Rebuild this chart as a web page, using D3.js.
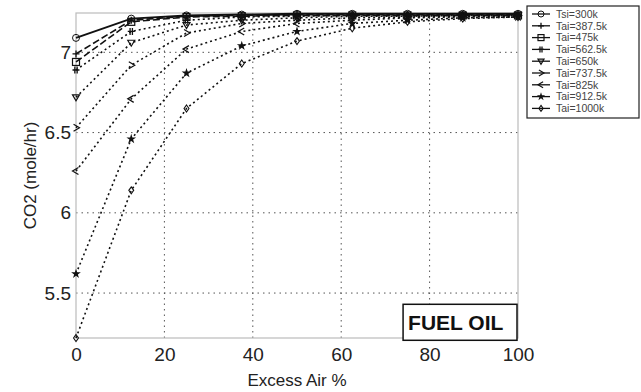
<!DOCTYPE html>
<html>
<head>
<meta charset="utf-8">
<script src="https://cdn.jsdelivr.net/npm/d3@7"></script>
<style>
  html, body { margin: 0; padding: 0; background: #fff; }
  svg { display: block; font-family: "Liberation Sans", Arial, sans-serif; }
</style>
</head>
<body>
<svg id="chart" width="641" height="392"></svg>
<script>
// Excess air (%) sample points
const excessAir = [0, 12.5, 25, 37.5, 50, 62.5, 75, 87.5, 100];

// Inlet air temperature series labels
const seriesLabels = ["Tsi=300k", "Tai=387.5k", "Tai=475k", "Tai=562.5k", "Tai=650k",
                      "Tai=737.5k", "Tai=825k", "Tai=912.5k", "Tai=1000k"];

// CO2 production (mole/hr) for each inlet air temperature
const co2_300   = [7.09, 7.21, 7.23, 7.235, 7.24, 7.24, 7.24, 7.24, 7.24];
const co2_387   = [6.99, 7.20, 7.225, 7.23, 7.235, 7.235, 7.235, 7.235, 7.235];
const co2_475   = [6.94, 7.19, 7.22, 7.225, 7.23, 7.23, 7.23, 7.23, 7.23];
const co2_562   = [6.89, 7.13, 7.20, 7.22, 7.225, 7.23, 7.23, 7.23, 7.23];
const co2_650   = [6.72, 7.06, 7.17, 7.20, 7.215, 7.225, 7.225, 7.23, 7.23];
const co2_737   = [6.53, 6.92, 7.12, 7.18, 7.20, 7.215, 7.22, 7.225, 7.23];
const co2_825   = [6.26, 6.71, 7.02, 7.13, 7.18, 7.20, 7.215, 7.22, 7.225];
const co2_912   = [5.62, 6.46, 6.87, 7.04, 7.13, 7.18, 7.20, 7.215, 7.22];
const co2_1000  = [5.22, 6.14, 6.65, 6.93, 7.07, 7.15, 7.19, 7.21, 7.22];

const seriesValues = [co2_300, co2_387, co2_475, co2_562, co2_650,
                      co2_737, co2_825, co2_912, co2_1000];

const xTicks = [0, 20, 40, 60, 80, 100];
const yTicks = [5.5, 6, 6.5, 7];
const yTickLabels = ["5.5", "6", "6.5", "7"];

const xTitle = "Excess Air %";
const yTitle = "CO2 (mole/hr)";
const boxText = "FUEL OIL";

// Marker and line style per series
const markerKinds = ["circle", "plus", "square", "hash", "tri-down", "tri-right", "tri-left", "star", "diamond"];
const dashKinds = ["none", "7,3", "7,3", "2,3", "2,3", "2,3", "2,3", "2,3", "2,3"];

const svg = d3.select("#chart");
const m = { left: 76, right: 123, top: 13, bottom: 54 };
const W = 641, H = 392;
const x = d3.scaleLinear().domain([0, 100]).range([m.left, W - m.right]);
const y = d3.scaleLinear().domain([5.22, 7.245]).range([H - m.bottom, m.top]);

const g = svg.append("g");

// grid
g.append("g").selectAll("line").data(xTicks.slice(1, -1)).join("line")
  .attr("x1", d => x(d)).attr("x2", d => x(d))
  .attr("y1", y.range()[0]).attr("y2", y.range()[1])
  .attr("stroke", "#555").attr("stroke-width", 1).attr("stroke-dasharray", "1.5,4");
g.append("g").selectAll("line").data(yTicks).join("line")
  .attr("x1", x.range()[0]).attr("x2", x.range()[1])
  .attr("y1", d => y(d)).attr("y2", d => y(d))
  .attr("stroke", "#555").attr("stroke-width", 1).attr("stroke-dasharray", "1.5,4");

// axes frame
g.append("rect")
  .attr("x", x.range()[0]).attr("y", y.range()[1])
  .attr("width", x.range()[1] - x.range()[0]).attr("height", y.range()[0] - y.range()[1])
  .attr("fill", "none").attr("stroke", "#bbb").attr("stroke-width", 1.2);

const xAxis = d3.axisBottom(x).tickValues(xTicks).tickSize(0).tickPadding(10);
const xa = g.append("g").attr("transform", `translate(0,${y.range()[0]})`).call(xAxis);
xa.select(".domain").remove();
xa.selectAll("text").attr("font-size", 19).attr("fill", "#222");

const yAxis = d3.axisLeft(y).tickValues(yTicks).tickFormat((d, i) => yTickLabels[i]).tickSize(0).tickPadding(5);
const ya = g.append("g").attr("transform", `translate(${x.range()[0]},0)`).call(yAxis);
ya.select(".domain").remove();
ya.selectAll("text").attr("font-size", 19).attr("fill", "#222");

// axis titles
svg.append("text").attr("x", (x.range()[0] + x.range()[1]) / 2).attr("y", 386)
  .attr("text-anchor", "middle").attr("font-size", 17).attr("fill", "#222").text(xTitle);
svg.append("text").attr("transform", `translate(36,${(y.range()[0] + y.range()[1]) / 2}) rotate(-90)`)
  .attr("text-anchor", "middle").attr("font-size", 17).attr("fill", "#222").text(yTitle);

// marker drawing
function drawMarker(sel, kind, s) {
  const r = s / 2;
  const stroke = "#111";
  if (kind === "circle") {
    sel.append("circle").attr("r", r).attr("fill", "none").attr("stroke", stroke).attr("stroke-width", 1);
  } else if (kind === "plus") {
    sel.append("path").attr("d", `M${-r},0H${r}M0,${-r}V${r}`).attr("stroke", stroke).attr("stroke-width", 1.3);
  } else if (kind === "square") {
    sel.append("rect").attr("x", -r).attr("y", -r).attr("width", s).attr("height", s)
      .attr("fill", "none").attr("stroke", stroke).attr("stroke-width", 1.2);
  } else if (kind === "hash") {
    sel.append("path").attr("d", `M${-r},0H${r}M${-r / 3},${-r}V${r}M${r / 3},${-r}V${r}`).attr("stroke", stroke).attr("stroke-width", 1.3);
  } else if (kind === "tri-down") {
    sel.append("path").attr("d", `M${-r},${-r * 0.7}L${r},${-r * 0.7}L0,${r}Z`).attr("fill", "none").attr("stroke", stroke).attr("stroke-width", 1.2);
  } else if (kind === "tri-right") {
    sel.append("path").attr("d", `M${-r * 0.7},${-r}L${r},0L${-r * 0.7},${r}`).attr("fill", "none").attr("stroke", stroke).attr("stroke-width", 1.2);
  } else if (kind === "tri-left") {
    sel.append("path").attr("d", `M${r * 0.7},${-r}L${-r},0L${r * 0.7},${r}`).attr("fill", "none").attr("stroke", stroke).attr("stroke-width", 1.2);
  } else if (kind === "star") {
    sel.append("path").attr("d", d3.symbol(d3.symbolStar, s * s * 0.6)()).attr("fill", stroke);
  } else if (kind === "diamond") {
    sel.append("path").attr("d", `M0,${-r}L${r * 0.7},0L0,${r}L${-r * 0.7},0Z`).attr("fill", "none").attr("stroke", stroke).attr("stroke-width", 1.1);
  }
}

const line = d3.line().x((d, i) => x(excessAir[i])).y(d => y(d));
const plot = g.append("g");
seriesValues.forEach((vals, k) => {
  plot.append("path").datum(vals).attr("d", line)
    .attr("fill", "none").attr("stroke", "#111")
    .attr("stroke-width", k === 0 ? 2 : 1.6)
    .attr("stroke-dasharray", dashKinds[k] === "none" ? null : dashKinds[k]);
  vals.forEach((v, i) => {
    const mk = plot.append("g").attr("transform", `translate(${x(excessAir[i])},${y(v)})`);
    drawMarker(mk, markerKinds[k], 7);
  });
});

// annotation box
const bx = x(74), by = y(5.43);
svg.append("rect").attr("x", bx).attr("y", by).attr("width", x(100) - bx - 1).attr("height", 36)
  .attr("fill", "#fff").attr("stroke", "#111").attr("stroke-width", 1.5);
svg.append("text").attr("x", bx + 5).attr("y", by + 26).attr("font-size", 21).attr("font-weight", "bold")
  .attr("fill", "#111").text(boxText);

// legend
const lg = svg.append("g").attr("transform", "translate(527,6)");
lg.append("rect").attr("x", 0).attr("y", 0).attr("width", 112).attr("height", 112)
  .attr("fill", "#fff").attr("stroke", "#222").attr("stroke-width", 1.2);
seriesLabels.forEach((lab, k) => {
  const yy = 8 + k * 11.8;
  lg.append("line").attr("x1", 5).attr("x2", 23).attr("y1", yy).attr("y2", yy)
    .attr("stroke", "#111").attr("stroke-width", 1.3);
  const mk = lg.append("g").attr("transform", `translate(14,${yy})`);
  drawMarker(mk, markerKinds[k], 6);
  lg.append("text").attr("x", 29).attr("y", yy + 3.8).attr("font-size", 10.5).attr("fill", "#444").text(lab);
});
</script>
</body>
</html>
